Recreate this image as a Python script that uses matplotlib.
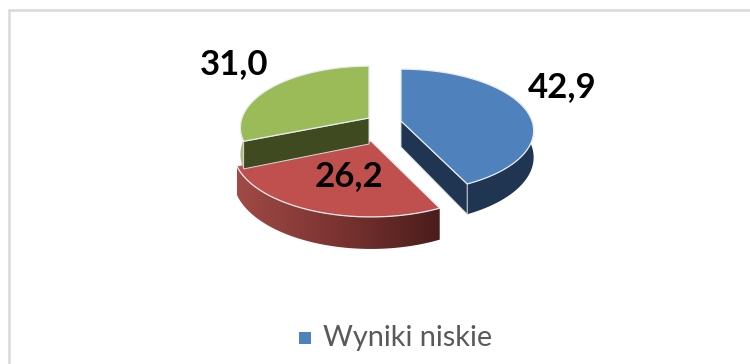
import numpy as np
import matplotlib
matplotlib.use('Agg')
import matplotlib.pyplot as plt
from matplotlib.colors import LinearSegmentedColormap
from matplotlib.patches import Polygon, Rectangle

# data
values = [42.9, 26.2, 31.0]
value_labels = ['42,9', '26,2', '31,0']
legend_label = 'Wyniki niskie'

colors_top = ['#4f81bd', '#c0504d', '#9bbb59']
colors_side = ['#1f3552', '#7a3331', '#3f4a21']
colors_outer = ['#1f3552', '#7a3331', '#a9bf7c']

# where each exploded slice sits in the picture, in pixels
centers = [(401, 121), (371, 141), (369, 118)]
radii_x = [131, 136, 127]
radii_y = [60, 64, 60]
depths = [26, 27, 26]
label_pos = [(562, 87), (349, 176), (234, 64)]

PERSP = 0.157


def project(i, ang, z=0.0, rad=1.0):
    # 3d-ish projection, things near the viewer get bigger
    ang = np.atleast_1d(ang)
    u = rad * np.cos(ang)
    v = rad * np.sin(ang)
    s = 1 / (1 + PERSP * v)
    cx, cy = centers[i]
    return np.column_stack([cx + radii_x[i] * u * s, cy - radii_y[i] * v * s + z * s])


fig = plt.figure(figsize=(7.5, 3.64), dpi=100)
ax = fig.add_axes([0, 0, 1, 1])
ax.set_axis_off()

# outer frame, only left and top are inside the crop
ax.add_patch(Rectangle((9, 10), 800, 400, fc='white', ec='#d9d9d9', lw=1.8, zorder=0))

fracs = np.array(values) / sum(values)
ends = np.pi / 2 - 2 * np.pi * np.cumsum(fracs)
starts = np.concatenate([[np.pi / 2], ends[:-1]])

red_cmap = LinearSegmentedColormap.from_list('red_side', ['#a04a46', '#7a3331', '#4b1d1b'])

# angle of the cut face that looks at the viewer, red has none showing
cut_angle = {0: ends[0], 2: starts[2]}

# back slice first
for i in [2, 0, 1]:
    ang = np.linspace(starts[i], ends[i], 160)
    top_arc = project(i, ang)
    low_arc = project(i, ang, depths[i])
    wall = np.vstack([top_arc, low_arc[::-1]])
    if i == 1:
        patch = Polygon(wall, closed=True, fc='none', ec='none', zorder=i + 2)
        ax.add_patch(patch)
        grad = np.linspace(0, 1, 256).reshape(1, -1)
        im = ax.imshow(grad, cmap=red_cmap, aspect='auto', zorder=i + 2,
                       extent=(wall[:, 0].min(), wall[:, 0].max(), wall[:, 1].max(), wall[:, 1].min()))
        im.set_clip_path(patch)
    else:
        ax.add_patch(Polygon(wall, closed=True, fc=colors_outer[i], ec='none', zorder=i + 2))

    if i in cut_angle:
        a = cut_angle[i]
        face = np.vstack([project(i, a, 0, 0.0), project(i, a), project(i, a, depths[i]),
                          project(i, a, depths[i], 0.0)])
        ax.add_patch(Polygon(face, closed=True, fc=colors_side[i], ec='#d5dbe0', lw=0.7, zorder=i + 2))

    # top face
    top = np.vstack([project(i, 0.0, 0, 0.0), top_arc])
    ax.add_patch(Polygon(top, closed=True, fc=colors_top[i], ec='#e8edf0', lw=0.9, zorder=i + 2.5))

for i in range(len(values)):
    ax.text(label_pos[i][0], label_pos[i][1], value_labels[i], ha='center', va='center',
            family='Lato', fontweight='bold', fontsize=25, color='black', zorder=10)

# legend, cropped after the first entry
ax.add_patch(Rectangle((299, 332), 12, 12, fc=colors_top[0], ec='none', zorder=10))
ax.text(323, 338, legend_label, ha='left', va='center', family='Lato', fontsize=20.8,
        color='#595959', zorder=10)

ax.set_xlim(0, 750)
ax.set_ylim(364, 0)
fig.savefig('out.png', dpi=100, facecolor='white')
